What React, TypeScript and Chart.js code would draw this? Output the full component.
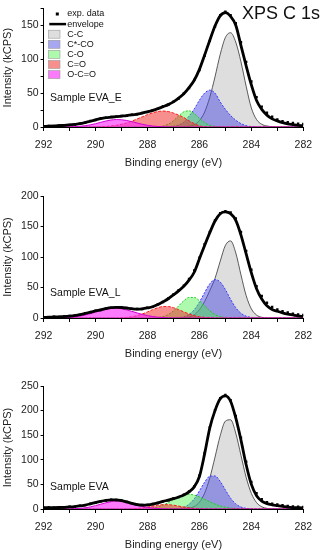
import React, { useEffect, useRef } from 'react';
import { Chart, registerables } from 'chart.js';

Chart.register(...registerables);

// Binding energy grid (eV)
const energies = [
  292, 291.8, 291.6, 291.4, 291.2, 291, 290.8, 290.6, 290.4, 290.2,
  290, 289.8, 289.6, 289.4, 289.2, 289, 288.8, 288.6, 288.4, 288.2,
  288, 287.8, 287.6, 287.4, 287.2, 287, 286.8, 286.6, 286.4, 286.2,
  286, 285.8, 285.6, 285.4, 285.2, 285, 284.8, 284.6, 284.4, 284.2,
  284, 283.8, 283.6, 283.4, 283.2, 283, 282.8, 282.6, 282.4, 282.2,
  282,
];

const componentNames = ['C-C', 'C*-CO', 'C-O', 'C=O', 'O-C=O'];
const xTickValues = [292, 290, 288, 286, 284, 282];

// ---- Sample EVA_E ----
const evaE_exp = [
  1, 1.5, 1.3, 2.2, 2.4, 3.2, 3.6, 5, 6.3, 8.8,
  10.3, 12.8, 13.5, 14.8, 15, 16.3, 16.6, 18, 18.8, 20.8,
  22.2, 24.8, 26.7, 30.3, 32.7, 37.4, 42, 49.5, 57.5, 69.5,
  84, 105, 127, 148, 165, 170, 165, 153, 125, 96,
  67, 44, 30, 21, 15, 11, 8.5, 7, 6, 5,
  4.5,
];
const evaE_envelope = [
  1, 1.2, 1.5, 2, 2.5, 3, 3.8, 4.8, 6.5, 8.5,
  10.5, 12.5, 13.8, 14.5, 15.2, 16, 16.8, 17.8, 19, 20.5,
  22.5, 24.5, 27, 30, 33, 37, 42.5, 49, 58, 69,
  85, 106, 128, 149, 164, 168.5, 163, 150, 120, 90,
  62, 39, 26, 17.5, 12, 9, 6.5, 4.5, 3.5, 2.5,
  2,
];
const evaE_CC = [
  0, 0, 0, 0, 0, 0, 0, 0, 0, 0,
  0, 0, 0, 0, 0, 0, 0, 0, 0, 0,
  0, 0, 0, 0, 0, 0, 0, 0.3, 1.1, 3.4,
  9.4, 22, 44, 74, 107, 132, 139, 125, 96, 60,
  28, 11, 4, 1.5, 0.4, 0, 0, 0, 0, 0,
  0,
];
const evaE_CCO = [
  0, 0, 0, 0, 0, 0, 0, 0, 0, 0,
  0, 0, 0, 0, 0, 0, 0, 0, 0, 0,
  0, 0, 0, 0, 0.3, 1.1, 3, 7.3, 16, 26.5,
  39.5, 50, 54.3, 50, 37, 26, 17, 10, 5, 2,
  0.6, 0, 0, 0, 0, 0, 0, 0, 0, 0,
  0,
];
const evaE_CO = [
  0, 0, 0, 0, 0, 0, 0, 0, 0, 0,
  0, 0, 0, 0, 0, 0, 0, 0, 0, 0,
  0, 0, 0.4, 1.4, 4.1, 9.3, 16.4, 22.4, 23.8, 19.7,
  12.7, 6.4, 2.5, 0.8, 0.2, 0, 0, 0, 0, 0,
  0, 0, 0, 0, 0, 0, 0, 0, 0, 0,
  0,
];
const evaE_C_O = [
  0, 0, 0, 0, 0, 0, 0, 0, 0, 0,
  0.2, 0.5, 0.9, 1.5, 2.6, 4.1, 6.1, 8.7, 11.8, 15,
  18.2, 20.9, 22.8, 23.5, 22.8, 20.5, 17.5, 14, 9, 5,
  1.5, 0.3, 0, 0, 0, 0, 0, 0, 0, 0,
  0, 0, 0, 0, 0, 0, 0, 0, 0, 0,
  0,
];
const evaE_OCO = [
  0, 0, 0, 0, 0, 0.3, 0.5, 1.1, 1.9, 3.2,
  4.9, 6.9, 8.8, 10.3, 11, 10.7, 9.6, 7.9, 5.9, 4,
  2.5, 1.4, 0.8, 0.35, 0.15, 0, 0, 0, 0, 0,
  0, 0, 0, 0, 0, 0, 0, 0, 0, 0,
  0, 0, 0, 0, 0, 0, 0, 0, 0, 0,
  0,
];

// ---- Sample EVA_L ----
const evaL_exp = [
  1.5, 1, 2, 1.8, 2.8, 3.2, 4.3, 5.2, 7.8, 9.2,
  11.8, 13.2, 15.8, 16.6, 17.8, 16.9, 16.5, 15, 14.8, 14.7,
  16.8, 18.3, 22.4, 26.2, 32, 38.5, 45.5, 53, 64, 78,
  99, 121, 141, 160, 172, 175, 173, 163, 141, 110,
  79, 52, 36, 25, 18, 14, 11, 9, 7, 6,
  5,
];
const evaL_envelope = [
  1, 1.3, 1.7, 2, 2.3, 3, 4, 5.5, 7.5, 9.5,
  11.5, 13.5, 15.5, 17, 17.5, 17.2, 16.3, 15.2, 14.6, 15,
  16.5, 18.5, 22, 26.5, 31.5, 38, 44.5, 52, 62, 75,
  97, 119, 140, 159, 171, 174, 171, 160, 136, 105,
  74, 48, 31, 20, 14, 11, 8.5, 6.5, 5, 3.5,
  2.5,
];
const evaL_CC = [
  0, 0, 0, 0, 0, 0, 0, 0, 0, 0,
  0, 0, 0, 0, 0, 0, 0, 0, 0, 0,
  0, 0, 0, 0, 0, 0, 0, 0.5, 1.8, 5.2,
  13.5, 27, 45, 65, 93, 119, 126.4, 106.7, 70.6, 36.7,
  15, 4.8, 1.2, 0.2, 0, 0, 0, 0, 0, 0,
  0,
];
const evaL_CCO = [
  0, 0, 0, 0, 0, 0, 0, 0, 0, 0,
  0, 0, 0, 0, 0, 0, 0, 0, 0, 0,
  0, 0, 0, 0, 0, 0.2, 0.7, 2.2, 5.9, 13.6,
  26, 41.8, 56, 63, 59, 46.5, 30.6, 16.9, 7.8, 3,
  1, 0.3, 0, 0, 0, 0, 0, 0, 0, 0,
  0,
];
const evaL_CO = [
  0, 0, 0, 0, 0, 0, 0, 0, 0, 0,
  0, 0, 0, 0, 0, 0, 0, 0, 0, 0,
  0, 0.2, 0.8, 2.3, 5.7, 11.6, 19.8, 28.3, 33.7, 33.7,
  28.3, 19.8, 11.6, 5.7, 2.3, 0.8, 0.2, 0, 0, 0,
  0, 0, 0, 0, 0, 0, 0, 0, 0, 0,
  0,
];
const evaL_C_O = [
  0, 0, 0, 0, 0, 0, 0, 0, 0, 0,
  0, 0, 0, 0, 0, 0.4, 1, 2.1, 4, 6.6,
  10, 13.7, 16.9, 18.8, 18.8, 16.9, 13.7, 10, 6.6, 4,
  2.1, 1, 0.4, 0, 0, 0, 0, 0, 0, 0,
  0, 0, 0, 0, 0, 0, 0, 0, 0, 0,
  0,
];
const evaL_OCO = [
  0, 0, 0, 0.2, 0.5, 1, 1.8, 3, 4.8, 7,
  9.6, 12.2, 14.3, 15.7, 16, 15.1, 13.3, 10.9, 8.3, 5.9,
  3.9, 2.4, 1.3, 0.7, 0.3, 0, 0, 0, 0, 0,
  0, 0, 0, 0, 0, 0, 0, 0, 0, 0,
  0, 0, 0, 0, 0, 0, 0, 0, 0, 0,
  0,
];

// ---- Sample EVA ----
const eva_exp = [
  2, 3, 2.5, 3.4, 3.3, 4.5, 4.8, 6.5, 7.8, 10.8,
  12.7, 15.8, 17.2, 18.8, 18.2, 17.3, 14.2, 11.8, 8.8, 8.2,
  8.3, 10.3, 12.2, 15.8, 17.7, 21.4, 24.2, 29, 35.5, 46,
  68, 114, 166, 201, 225, 232, 221, 189, 145, 96,
  55, 32, 20, 14, 11, 9, 7.5, 6, 5, 4.5,
  4,
];
const eva_envelope = [
  2.5, 2.5, 2.7, 3, 3.5, 4.2, 5, 6.2, 8, 10.5,
  13, 15.5, 17.5, 18.5, 18.5, 17, 14.5, 11.5, 9, 8,
  8.5, 10, 12.5, 15.5, 18, 21, 24.5, 28.5, 35, 45,
  66, 112, 165, 200, 224, 230, 219, 185, 140, 90,
  50, 27, 16, 11, 8.5, 7, 5.5, 4, 3, 2.5,
  2,
];
const eva_CC = [
  0, 0, 0, 0, 0, 0, 0, 0, 0, 0,
  0, 0, 0, 0, 0, 0, 0, 0, 0, 0,
  0, 0, 0, 0, 0, 0, 0, 0.4, 1.6, 5.1,
  13.9, 32.1, 63.2, 105.4, 149, 178.6, 181.4, 154, 109, 64.3,
  31.7, 13, 4.5, 1.3, 0.3, 0, 0, 0, 0, 0,
  0,
];
const eva_CCO = [
  0, 0, 0, 0, 0, 0, 0, 0, 0, 0,
  0, 0, 0, 0, 0, 0, 0, 0, 0, 0,
  0, 0, 0, 0, 0, 0.3, 1.1, 3.7, 9.6, 20.6,
  36.9, 54.5, 66.6, 67.2, 56, 38.7, 22, 10.4, 4, 1.3,
  0.35, 0, 0, 0, 0, 0, 0, 0, 0, 0,
  0,
];
const eva_CO = [
  0, 0, 0, 0, 0, 0, 0, 0, 0, 0,
  0, 0, 0, 0, 0, 0, 0, 0, 0, 0,
  0.9, 2, 4.3, 8, 13.1, 19.2, 25, 29, 30, 28.2,
  24.5, 19.7, 14.6, 10, 6.3, 3.7, 2, 1, 0.4, 0,
  0, 0, 0, 0, 0, 0, 0, 0, 0, 0,
  0,
];
const eva_C_O = [
  0, 0, 0, 0, 0, 0, 0, 0, 0, 0,
  0, 0, 0, 0, 0, 0, 0, 0.5, 1.2, 2.3,
  4, 5.9, 7.7, 8.8, 8.8, 7.7, 5.9, 4, 2.3, 1.2,
  0.5, 0, 0, 0, 0, 0, 0, 0, 0, 0,
  0, 0, 0, 0, 0, 0, 0, 0, 0, 0,
  0,
];
const eva_OCO = [
  0, 0, 0, 0, 0, 0.25, 0.6, 1.3, 2.4, 4.3,
  6.8, 9.7, 12.7, 15.1, 16.3, 15.9, 14, 11.3, 8.2, 5.4,
  3.3, 1.8, 0.9, 0.4, 0.15, 0, 0, 0, 0, 0,
  0, 0, 0, 0, 0, 0, 0, 0, 0, 0,
  0, 0, 0, 0, 0, 0, 0, 0, 0, 0,
  0,
];

// ---- styling ----
const FONT = '"Liberation Sans", Arial, Helvetica, sans-serif';
const compStyles = [
  { fill: 'rgba(200,200,200,0.6)', line: '#333333', width: 0.8, dash: [] as number[] },
  { fill: 'rgba(70,70,225,0.48)', line: '#3a3aff', width: 1, dash: [2, 1.5] },
  { fill: 'rgba(60,240,60,0.42)', line: '#22cc22', width: 1, dash: [2, 1.5] },
  { fill: 'rgba(240,40,40,0.52)', line: '#ff1a1a', width: 1, dash: [3, 1.5] },
  { fill: 'rgba(250,40,250,0.62)', line: '#d000d0', width: 1, dash: [] as number[] },
];

type PanelCfg = {
  label: string;
  yMax: number;
  top: number;
  height: number;
  padTop: number;
  labelY: number;
  legend: boolean;
  exp: number[];
  envelope: number[];
  comps: number[][];
};

const panels: PanelCfg[] = [
  { label: 'Sample EVA_E', yMax: 175, top: 0, height: 171, padTop: 5, labelY: 98.3, legend: true,
    exp: evaE_exp, envelope: evaE_envelope, comps: [evaE_CC, evaE_CCO, evaE_CO, evaE_C_O, evaE_OCO] },
  { label: 'Sample EVA_L', yMax: 200, top: 180, height: 182, padTop: 16, labelY: 113.3, legend: false,
    exp: evaL_exp, envelope: evaL_envelope, comps: [evaL_CC, evaL_CCO, evaL_CO, evaL_C_O, evaL_OCO] },
  { label: 'Sample EVA', yMax: 250, top: 370, height: 183, padTop: 16, labelY: 117.3, legend: false,
    exp: eva_exp, envelope: eva_envelope, comps: [eva_CC, eva_CCO, eva_CO, eva_C_O, eva_OCO] },
];

const toXY = (vals: number[]) => energies.map((x, i) => ({ x, y: vals[i] }));

function Panel({ cfg }: { cfg: PanelCfg }) {
  const ref = useRef<HTMLCanvasElement>(null);
  useEffect(() => {
    const canvas = ref.current;
    if (!canvas) return;
    const overlay = {
      id: 'overlay',
      afterDraw(chart: any) {
        const c = chart.ctx as CanvasRenderingContext2D;
        const a = chart.chartArea;
        c.save();
        c.fillStyle = '#111';
        c.textBaseline = 'middle';
        c.textAlign = 'left';
        c.font = `10.5px ${FONT}`;
        c.fillText(cfg.label, a.left + 6.5, cfg.labelY);
        if (cfg.legend) {
          c.font = `18px ${FONT}`;
          c.fillText('XPS C 1s', 242, 14.5);
          c.font = `9px ${FONT}`;
          const bx = a.left + 4.7;
          const tx = a.left + 23.7;
          let y = a.top + 5.7;
          // exp. data
          c.fillStyle = '#000';
          c.fillRect(a.left + 12.2, y - 1.5, 3, 3);
          c.fillStyle = '#111';
          c.fillText('exp. data', tx, y);
          y += 10.1;
          // envelope
          c.strokeStyle = '#000';
          c.lineWidth = 2.5;
          c.beginPath();
          c.moveTo(bx + 1, y);
          c.lineTo(a.left + 22.5, y);
          c.stroke();
          c.fillText('envelope', tx, y);
          y += 10.1;
          componentNames.forEach((name, k) => {
            c.fillStyle = '#fff';
            c.fillRect(bx, y - 4, 11.7, 8);
            c.fillStyle = compStyles[k].fill;
            c.fillRect(bx, y - 4, 11.7, 8);
            c.strokeStyle = '#9a9a9a';
            c.lineWidth = 0.6;
            c.strokeRect(bx, y - 4, 11.7, 8);
            c.fillStyle = '#111';
            c.fillText(name, tx, y);
            y += 10.1;
          });
        }
        c.restore();
      },
    };

    const datasets: any[] = [];
    cfg.comps.forEach((vals, k) => {
      const s = compStyles[k];
      datasets.push({
        label: componentNames[k],
        data: toXY(vals),
        borderColor: s.line,
        borderWidth: s.width,
        borderDash: s.dash,
        backgroundColor: s.fill,
        fill: 'origin',
        pointRadius: 0,
        cubicInterpolationMode: 'monotone',
        order: 6 - k,
      });
    });
    datasets.push({
      label: 'envelope',
      data: toXY(cfg.envelope),
      borderColor: '#000',
      borderWidth: 2.8,
      fill: false,
      pointRadius: 0,
      cubicInterpolationMode: 'monotone',
      order: 1,
    });
    datasets.push({
      label: 'exp. data',
      data: toXY(cfg.exp),
      showLine: false,
      pointStyle: 'rect',
      pointRadius: 1.7,
      pointBackgroundColor: '#000',
      pointBorderWidth: 0,
      order: 0,
    });

    const chart = new Chart(canvas, {
      type: 'line',
      data: { datasets },
      options: {
        animation: false,
        responsive: false,
        events: [],
        layout: { padding: { top: cfg.padTop, right: 18.7, bottom: 0, left: 0 } },
        plugins: { legend: { display: false }, tooltip: { enabled: false } },
        scales: {
          x: {
            type: 'linear',
            reverse: true,
            min: 282,
            max: 292,
            afterFit: (s: any) => { s.height = 44; },
            afterBuildTicks: (s: any) => {
              const t: any[] = [];
              for (let v = 282; v <= 292; v += 1) t.push({ value: v });
              s.ticks = t;
            },
            ticks: {
              autoSkip: false,
              maxRotation: 0,
              padding: 8,
              color: '#222',
              font: { family: FONT, size: 10.5 },
              callback: (v: any) => (xTickValues.includes(Number(v)) ? String(v) : ''),
            },
            grid: { display: true, drawOnChartArea: false, drawTicks: true, tickLength: 4, color: '#000', lineWidth: 1 },
            border: { display: true, color: '#000', width: 1 },
            title: {
              display: true,
              text: 'Binding energy (eV)',
              color: '#222',
              font: { family: FONT, size: 11 },
              padding: { top: 0, bottom: 1.5 },
            },
          },
          y: {
            type: 'linear',
            min: 0,
            max: cfg.yMax,
            afterFit: (s: any) => { s.width = 43.6; },
            ticks: {
              stepSize: 25,
              padding: 2,
              color: '#222',
              font: { family: FONT, size: 10.5 },
              callback: (v: any) => (Number(v) % 50 === 0 ? String(v) : ''),
            },
            grid: { display: true, drawOnChartArea: false, drawTicks: true, tickLength: 3, color: '#000', lineWidth: 1 },
            border: { display: true, color: '#000', width: 1 },
            title: {
              display: true,
              text: 'Intensity (kCPS)',
              color: '#222',
              font: { family: FONT, size: 11 },
              padding: { top: 1.4, bottom: 0 },
            },
          },
        },
      },
      plugins: [overlay],
    } as any);
    return () => chart.destroy();
  }, [cfg]);
  return (
    <div style={{ position: 'absolute', left: 0, top: cfg.top, width: 322, height: cfg.height }}>
      <canvas ref={ref} width={322} height={cfg.height} style={{ display: 'block' }} />
    </div>
  );
}

export default function App() {
  return (
    <div style={{ position: 'absolute', left: 0, top: 0, width: 322, height: 550, overflow: 'hidden', background: '#fff' }}>
      {panels.map((p) => (
        <Panel key={p.label} cfg={p} />
      ))}
    </div>
  );
}
